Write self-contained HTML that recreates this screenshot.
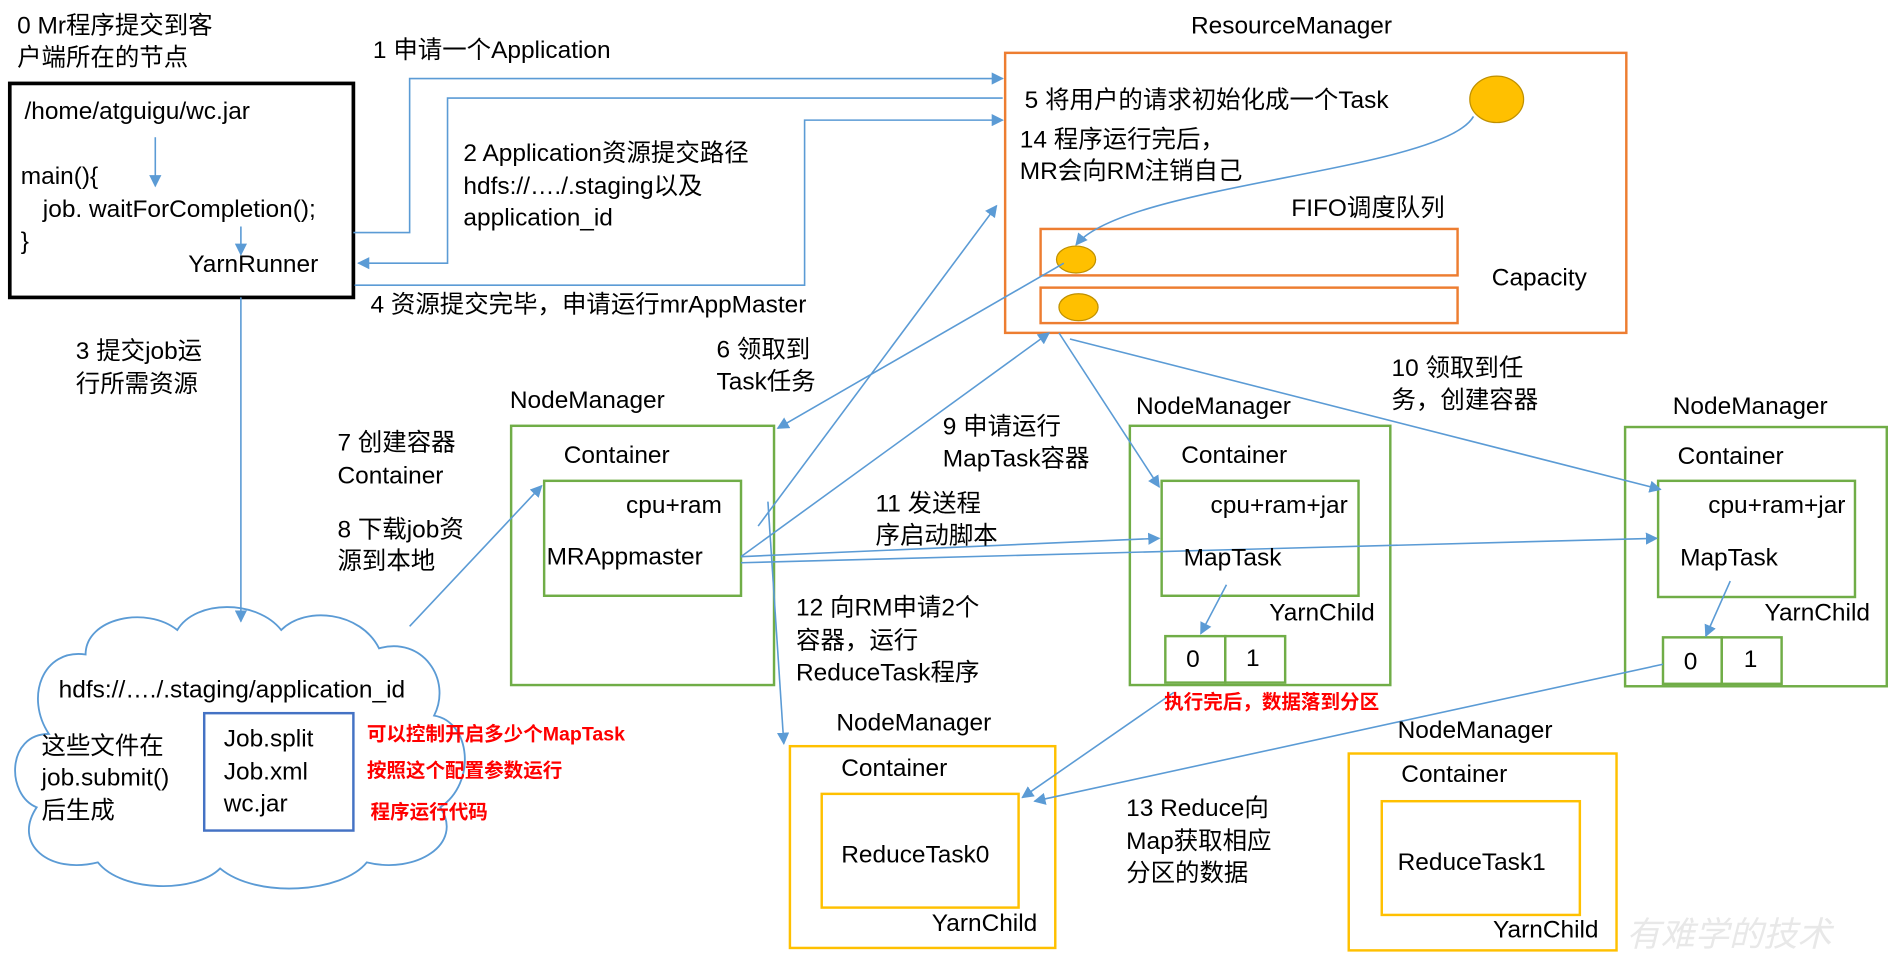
<!DOCTYPE html>
<html><head><meta charset="utf-8"><style>
html,body{margin:0;padding:0;background:#fff;}
svg{display:block;}
text{font-family:"Liberation Sans","Noto Sans CJK SC",sans-serif;font-size:20px;fill:#000;dominant-baseline:middle;}
.r{fill:#ff0000;font-size:16px;font-weight:bold;}
</style></head><body>
<svg width="1899" height="958" viewBox="0 0 1553 783" xmlns="http://www.w3.org/2000/svg">
<defs>
<marker id="a" markerWidth="10" markerHeight="10" refX="9" refY="5" orient="auto" markerUnits="userSpaceOnUse"><path d="M0,0 L10,5 L0,10 z" fill="#5b9bd5"/></marker>
</defs>
<g fill="none" stroke-width="2">
<rect x="8" y="68" width="281" height="175" stroke="#000" stroke-width="3"/>
<rect x="822" y="43" width="508" height="229" stroke="#ed7d31"/>
<rect x="851" y="187" width="341" height="38" stroke="#ed7d31"/>
<rect x="851" y="235" width="341" height="29" stroke="#ed7d31"/>
<rect x="418" y="348" width="215" height="212" stroke="#70ad47"/>
<rect x="445" y="393" width="161" height="94" stroke="#70ad47"/>
<rect x="924" y="348" width="213" height="212" stroke="#70ad47"/>
<rect x="950" y="393" width="161" height="94" stroke="#70ad47"/>
<rect x="953" y="520" width="49" height="38" stroke="#70ad47"/>
<rect x="1002" y="520" width="49" height="38" stroke="#70ad47"/>
<rect x="1329" y="349" width="214" height="212" stroke="#70ad47"/>
<rect x="1356" y="393" width="161" height="95" stroke="#70ad47"/>
<rect x="1360" y="521" width="48" height="38" stroke="#70ad47"/>
<rect x="1408" y="521" width="49" height="38" stroke="#70ad47"/>
<rect x="646" y="610" width="217" height="165" stroke="#ffc000"/>
<rect x="672" y="649" width="161" height="93" stroke="#ffc000"/>
<rect x="1103" y="616" width="219" height="161" stroke="#ffc000"/>
<rect x="1130" y="655" width="162" height="93" stroke="#ffc000"/>
<rect x="167" y="583" width="122" height="96" stroke="#4472c4"/>
<path d="M40,600 C5,600 5,650 30,660 C10,690 40,715 80,705 C100,730 160,730 180,710 C210,735 280,730 300,705 C340,715 380,690 360,660 C390,640 385,590 355,585 C370,555 345,520 310,530 C295,500 250,495 230,515 C210,490 160,490 145,515 C120,495 70,505 70,535 C35,530 20,570 40,600 Z" stroke="#5b9bd5" stroke-width="1.5"/>
</g>
<ellipse cx="1224" cy="81" rx="22" ry="19" fill="#ffc000" stroke="#bf9000"/>
<ellipse cx="880" cy="212" rx="16" ry="11" fill="#ffc000" stroke="#bf9000"/>
<ellipse cx="882" cy="251" rx="16" ry="11" fill="#ffc000" stroke="#bf9000"/>
<g fill="none" stroke="#5b9bd5" stroke-width="1.3" marker-end="url(#a)">
<path d="M127,112 L127,152"/>
<path d="M197,185 L197,208"/>
<path d="M289,190 L335,190 L335,64 L820,64"/>
<path d="M820,80 L366,80 L366,215 L293,215"/>
<path d="M290,233 L658,233 L658,98 L820,98"/>
<path d="M197,243 L197,508"/>
<path d="M1205,95 C1180,140 920,150 880,200"/>
<path d="M870,215 L636,350"/>
<path d="M335,512 L443,397"/>
<path d="M620,430 L815,168"/>
<path d="M606,455 L858,272"/>
<path d="M866,272 L948,398"/>
<path d="M875,277 L1358,400"/>
<path d="M606,455 L948,440"/>
<path d="M606,460 L1355,440"/>
<path d="M628,410 L641,608"/>
<path d="M1003,478 L982,518"/>
<path d="M1415,475 L1395,520"/>
<path d="M960,566 L836,652"/>
<path d="M1360,543 L846,655"/>
</g>
<text x="14" y="22">0 Mr程序提交到客</text>
<text x="14" y="48">户端所在的节点</text>
<text x="20" y="92">/home/atguigu/wc.jar</text>
<text x="17" y="145">main(){</text>
<text x="35" y="172">job. waitForCompletion();</text>
<text x="17" y="198">}</text>
<text x="154" y="217">YarnRunner</text>
<text x="974" y="22">ResourceManager</text>
<text x="838" y="83">5 将用户的请求初始化成一个Task</text>
<text x="834" y="115">14 程序运行完后，</text>
<text x="834" y="141">MR会向RM注销自己</text>
<text x="1056" y="171">FIFO调度队列</text>
<text x="1220" y="228">Capacity</text>
<text x="305" y="42">1 申请一个Application</text>
<text x="379" y="126">2 Application资源提交路径</text>
<text x="379" y="153">hdfs://…./.staging以及</text>
<text x="379" y="179">application_id</text>
<text x="303" y="250">4 资源提交完毕，申请运行mrAppMaster</text>
<text x="62" y="288">3 提交job运</text>
<text x="62" y="315">行所需资源</text>
<text x="48" y="565">hdfs://…./.staging/application_id</text>
<text x="34" y="611">这些文件在</text>
<text x="34" y="637">job.submit()</text>
<text x="34" y="664">后生成</text>
<text x="183" y="605">Job.split</text>
<text x="183" y="632">Job.xml</text>
<text x="183" y="658">wc.jar</text>
<text class="r" x="300" y="601">可以控制开启多少个MapTask</text>
<text class="r" x="300" y="631">按照这个配置参数运行</text>
<text class="r" x="303" y="665">程序运行代码</text>
<text x="417" y="328">NodeManager</text>
<text x="461" y="373">Container</text>
<text x="512" y="414">cpu+ram</text>
<text x="447" y="456">MRAppmaster</text>
<text x="586" y="287">6 领取到</text>
<text x="586" y="313">Task任务</text>
<text x="276" y="363">7 创建容器</text>
<text x="276" y="390">Container</text>
<text x="276" y="434">8 下载job资</text>
<text x="276" y="460">源到本地</text>
<text x="771" y="350">9 申请运行</text>
<text x="771" y="376">MapTask容器</text>
<text x="929" y="333">NodeManager</text>
<text x="966" y="373">Container</text>
<text x="990" y="414">cpu+ram+jar</text>
<text x="968" y="457">MapTask</text>
<text x="1038" y="502">YarnChild</text>
<text x="970" y="540">0</text>
<text x="1019" y="539">1</text>
<text class="r" x="952" y="575">执行完后，数据落到分区</text>
<text x="1138" y="302">10 领取到任</text>
<text x="1138" y="328">务，创建容器</text>
<text x="1368" y="333">NodeManager</text>
<text x="1372" y="374">Container</text>
<text x="1397" y="414">cpu+ram+jar</text>
<text x="1374" y="457">MapTask</text>
<text x="1443" y="502">YarnChild</text>
<text x="1377" y="542">0</text>
<text x="1426" y="540">1</text>
<text x="716" y="413">11 发送程</text>
<text x="716" y="439">序启动脚本</text>
<text x="651" y="498">12 向RM申请2个</text>
<text x="651" y="525">容器，运行</text>
<text x="651" y="551">ReduceTask程序</text>
<text x="684" y="592">NodeManager</text>
<text x="688" y="629">Container</text>
<text x="688" y="700">ReduceTask0</text>
<text x="762" y="756">YarnChild</text>
<text x="921" y="662">13 Reduce向</text>
<text x="921" y="689">Map获取相应</text>
<text x="921" y="715">分区的数据</text>
<text x="1143" y="598">NodeManager</text>
<text x="1146" y="634">Container</text>
<text x="1143" y="706">ReduceTask1</text>
<text x="1221" y="761">YarnChild</text>
<text x="1330" y="766" style="fill:#e8e8e8;font-size:28px;font-style:italic">有难学的技术</text>
</svg>
</body></html>
